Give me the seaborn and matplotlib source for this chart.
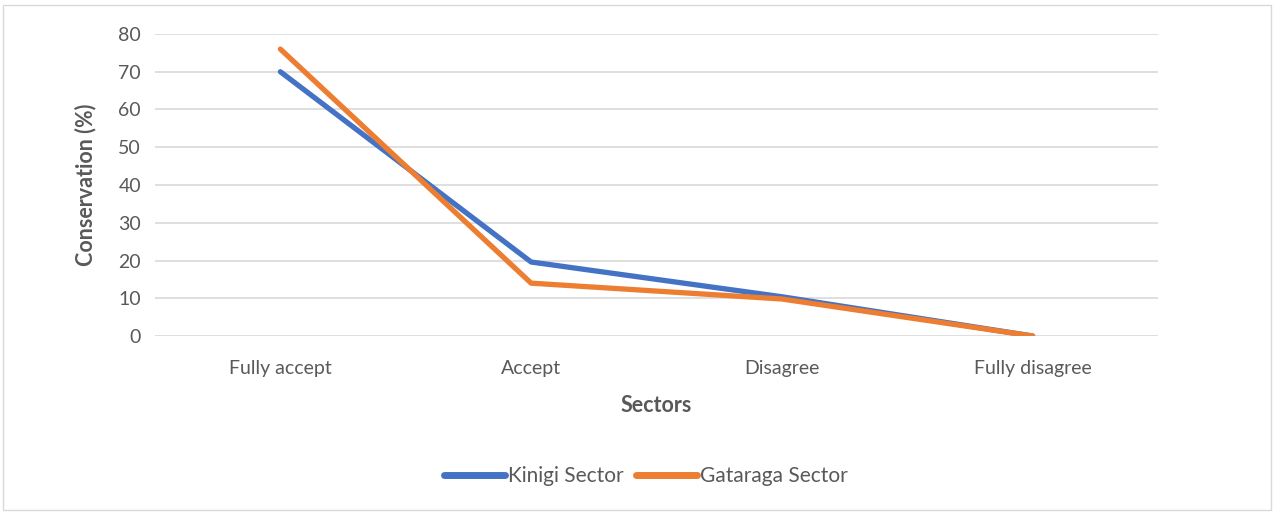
import matplotlib
matplotlib.use("Agg")
import matplotlib.pyplot as plt
import seaborn as sns
import pandas as pd
from matplotlib.patches import Rectangle

categories = ["Fully accept", "Accept", "Disagree", "Fully disagree"]
kinigi = [70, 19.6, 10.4, 0]
gataraga = [76, 14, 9.8, 0]
series_names = ["Kinigi Sector", "Gataraga Sector"]
y_ticks = [0, 10, 20, 30, 40, 50, 60, 70, 80]

df = pd.DataFrame({
    "Category": categories * 2,
    "Value": kinigi + gataraga,
    "Sector": [series_names[0]] * 4 + [series_names[1]] * 4,
})

sns.set_theme(style="white")
plt.rcParams["font.family"] = ["Lato", "DejaVu Sans"]

fig = plt.figure(figsize=(12.74, 5.12), dpi=100)
ax = fig.add_axes([155 / 1274, 1 - 336 / 512, (1158 - 155) / 1274, (336 - 34) / 512])

sns.lineplot(data=df, x="Category", y="Value", hue="Sector", sort=False,
             palette=["#4472C4", "#ED7D31"], linewidth=3.8, ax=ax, legend=True,
             solid_capstyle="round")

ax.set_xlim(-0.5, 3.5)
ax.set_ylim(0, 80)
ax.set_yticks(y_ticks)
ax.yaxis.grid(True, color="#d9d9d9", linewidth=1.2)
ax.set_axisbelow(True)
for s in ax.spines.values():
    s.set_visible(False)
ax.tick_params(axis="both", length=0, labelsize=14, colors="#595959", pad=10)
ax.tick_params(axis="x", pad=17)
ax.set_xlabel("Sectors", fontsize=15.5, fontweight="bold", color="#595959", labelpad=13)
ax.set_ylabel("Conservation (%)", fontsize=15.5, fontweight="bold", color="#595959", labelpad=16)

handles, labels = ax.get_legend_handles_labels()
for h in handles:
    h.set_linewidth(5)
ax.legend_.remove()
fig.legend(handles, labels, loc="center", bbox_to_anchor=(0.507, 1 - 476 / 512), ncol=2,
           frameon=False, fontsize=15, handlelength=2.9, columnspacing=0.6,
           handletextpad=0.15, labelcolor="#595959")

fig.patches.append(Rectangle((3 / 1274, 2 / 512), 1268 / 1274, 505 / 512,
                             transform=fig.transFigure, fill=False,
                             edgecolor="#d9d9d9", linewidth=1))

fig.savefig("out.png", dpi=100)
